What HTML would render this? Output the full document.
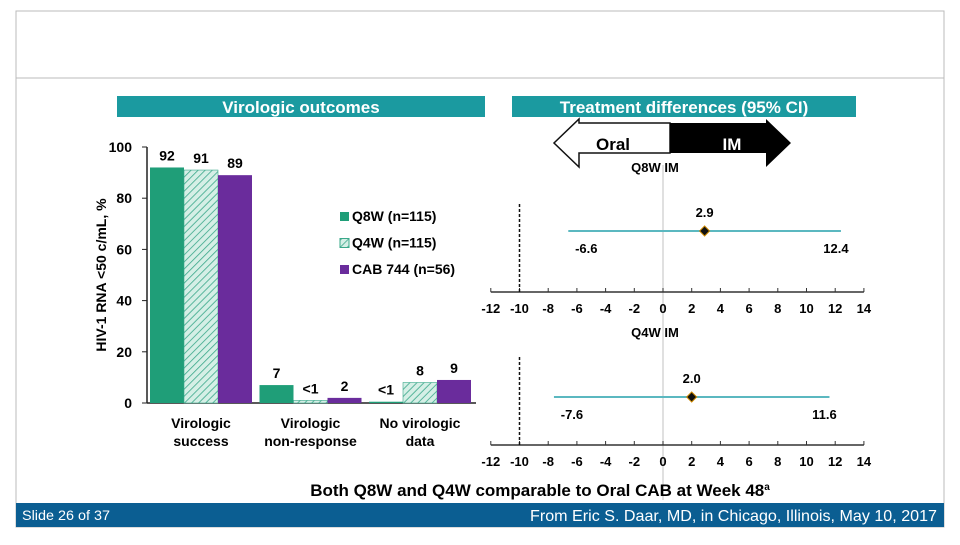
<!DOCTYPE html>
<html><head><meta charset="utf-8"><style>
body{margin:0;background:#fff;font-family:"Liberation Sans",Arial,sans-serif}
svg text{font-family:"Liberation Sans",Arial,sans-serif}
</style></head><body>
<svg width="960" height="540" viewBox="0 0 960 540">
<defs><pattern id="hatch" width="5" height="5" patternUnits="userSpaceOnUse" patternTransform="rotate(45)"><rect width="5" height="5" fill="#d5efe6"/><line x1="0" y1="0" x2="0" y2="5" stroke="#3aa88a" stroke-width="1.6"/></pattern></defs>
<rect x="16" y="11" width="928" height="516" fill="none" stroke="#bbb"/>
<line x1="16" y1="78" x2="944" y2="78" stroke="#bbb"/>
<rect x="117" y="96" width="368" height="21" fill="#1b9aa0"/>
<text x="301" y="113" text-anchor="middle" fill="#fff" font-size="17" font-weight="bold">Virologic outcomes</text>
<rect x="512" y="96" width="344" height="21" fill="#1b9aa0"/>
<text x="684" y="113" text-anchor="middle" fill="#fff" font-size="17" font-weight="bold">Treatment differences (95% CI)</text>
<g>
<polygon points="670,123 579,123 579,119 554,143 579,167 579,153 670,153" fill="#fff" stroke="#111" stroke-width="1.5"/>
<polygon points="670,123 766,123 766,119 791,143 766,167 766,153 670,153" fill="#000"/>
<text x="613" y="150" text-anchor="middle" font-size="17" font-weight="bold">Oral</text>
<text x="732" y="150" text-anchor="middle" font-size="17" font-weight="bold" fill="#fff">IM</text>
</g>
<g id="bars"></g>
<g id="forest"></g>
<text x="540" y="496" text-anchor="middle" font-size="17" font-weight="bold">Both Q8W and Q4W comparable to Oral CAB at Week 48<tspan font-size="10" dy="-6">a</tspan></text>
<rect x="16" y="503" width="928" height="24" fill="#0b5e92"/>
<text x="22" y="520" fill="#fff" font-size="14" textLength="88" lengthAdjust="spacingAndGlyphs">Slide 26 of 37</text>
<text x="530" y="521" fill="#fff" font-size="16" textLength="407" lengthAdjust="spacingAndGlyphs">From Eric S. Daar, MD, in Chicago, Illinois, May 10, 2017</text>
</svg>
<script>
const categories=[["Virologic","success"],["Virologic","non-response"],["No virologic","data"]];
const seriesNames=["Q8W (n=115)","Q4W (n=115)","CAB 744 (n=56)"];
const q8w=[92,7,0.5];
const q4w=[91,1,8];
const cab=[89,2,9];
const q8wLabels=["92","7","<1"];
const q4wLabels=["91","<1","8"];
const cabLabels=["89","2","9"];
const yTicks=[0,20,40,60,80,100];
const forestNames=["Q8W IM","Q4W IM"];
const pointEst=[2.9,2.0];
const ciLow=[-6.6,-7.6];
const ciHigh=[12.4,11.6];
const xTicks=[-12,-10,-8,-6,-4,-2,0,2,4,6,8,10,12,14];
const NS="http://www.w3.org/2000/svg";
function mk(p,t,a,txt){const e=document.createElementNS(NS,t);for(const k in a)e.setAttribute(k,a[k]);if(txt!==undefined)e.textContent=txt;p.appendChild(e);return e;}
const Y=v=>403-v*2.56;
const gb=document.getElementById('bars');
const series=[q8w,q4w,cab],labs=[q8wLabels,q4wLabels,cabLabels],fills=["#1f9e78","url(#hatch)","#6a2c9c"];
let e=mk(gb,'line',{x1:147,y1:147,x2:147,y2:403,stroke:'#222','stroke-width':1.5});


e=mk(gb,'line',{x1:147,y1:403,x2:476,y2:403,stroke:'#222','stroke-width':1.5});


yTicks.forEach(t=>{mk(gb,'line',{x1:142,y1:Y(t),x2:147,y2:Y(t),stroke:'#222'});
e=mk(gb,'text',{x:132,y:Y(t)+5,'text-anchor':'end','font-size':14,'font-weight':'bold'},t);

});
e=mk(gb,'text',{transform:'translate(106,275) rotate(-90)','text-anchor':'middle','font-size':14,'font-weight':'bold'},'HIV-1 RNA <50 c/mL, %');


categories.forEach((c,i)=>{const gx=150+i*109.5;
series.forEach((s,j)=>{const x=gx+j*34,h=403-Y(s[i]);
e=mk(gb,'rect',{x:x,y:Y(s[i]),width:34,height:h,fill:fills[j],stroke:j==1?'#3aa88a':'none','stroke-width':0.6});


e=mk(gb,'text',{x:x+17,y:Y(s[i])-7,'text-anchor':'middle','font-size':14,'font-weight':'bold'},labs[j][i]);

});
e=mk(gb,'text',{x:gx+51,y:428,'text-anchor':'middle','font-size':14,'font-weight':'bold'},c[0]);


mk(gb,'text',{x:gx+51,y:446,'text-anchor':'middle','font-size':14,'font-weight':'bold'},c[1]);});
seriesNames.forEach((n,j)=>{const y=212+j*26.5;
e=mk(gb,'rect',{x:340,y:y,width:9,height:9,fill:fills[j],stroke:j==1?'#3aa88a':'none'});


e=mk(gb,'text',{x:352,y:y+9,'font-size':14,'font-weight':'bold'},n);

});
const gf=document.getElementById('forest');
const X=v=>663+v*14.35;
e=mk(gf,'line',{x1:X(0),y1:165,x2:X(0),y2:500,stroke:'#ccc','stroke-width':1.2});


forestNames.forEach((n,i)=>{const ay=292+i*153,cy=231+i*166;
e=mk(gf,'text',{x:X(0)-8,y:i?337:172,'text-anchor':'middle','font-size':13,'font-weight':'bold'},n);


e=mk(gf,'line',{x1:X(-12),y1:ay,x2:X(14),y2:ay,stroke:'#333','stroke-width':1.5});


xTicks.forEach(t=>{mk(gf,'line',{x1:X(t),y1:ay-4,x2:X(t),y2:ay,stroke:'#333'});
e=mk(gf,'text',{x:X(t),y:ay+21,'text-anchor':'middle','font-size':13,'font-weight':'bold'},t);

});
e=mk(gf,'line',{x1:X(-10),y1:ay-88,x2:X(-10),y2:ay,stroke:'#111','stroke-width':1.5,'stroke-dasharray':'3,2'});


e=mk(gf,'line',{x1:X(ciLow[i]),y1:cy,x2:X(ciHigh[i]),y2:cy,stroke:'#5bb8c0','stroke-width':2});


const px=X(pointEst[i]);
e=mk(gf,'polygon',{points:`${px},${cy-5} ${px+5},${cy} ${px},${cy+5} ${px-5},${cy}`,fill:'#111',stroke:'#c80','stroke-width':1});


e=mk(gf,'text',{x:px,y:cy-14,'text-anchor':'middle','font-size':13,'font-weight':'bold'},pointEst[i].toFixed(1));


e=mk(gf,'text',{x:X(ciLow[i])+18,y:cy+22,'text-anchor':'middle','font-size':13,'font-weight':'bold'},ciLow[i].toFixed(1));


e=mk(gf,'text',{x:X(ciHigh[i])-5,y:cy+22,'text-anchor':'middle','font-size':13,'font-weight':'bold'},ciHigh[i].toFixed(1));

});
</script>
</body></html>
